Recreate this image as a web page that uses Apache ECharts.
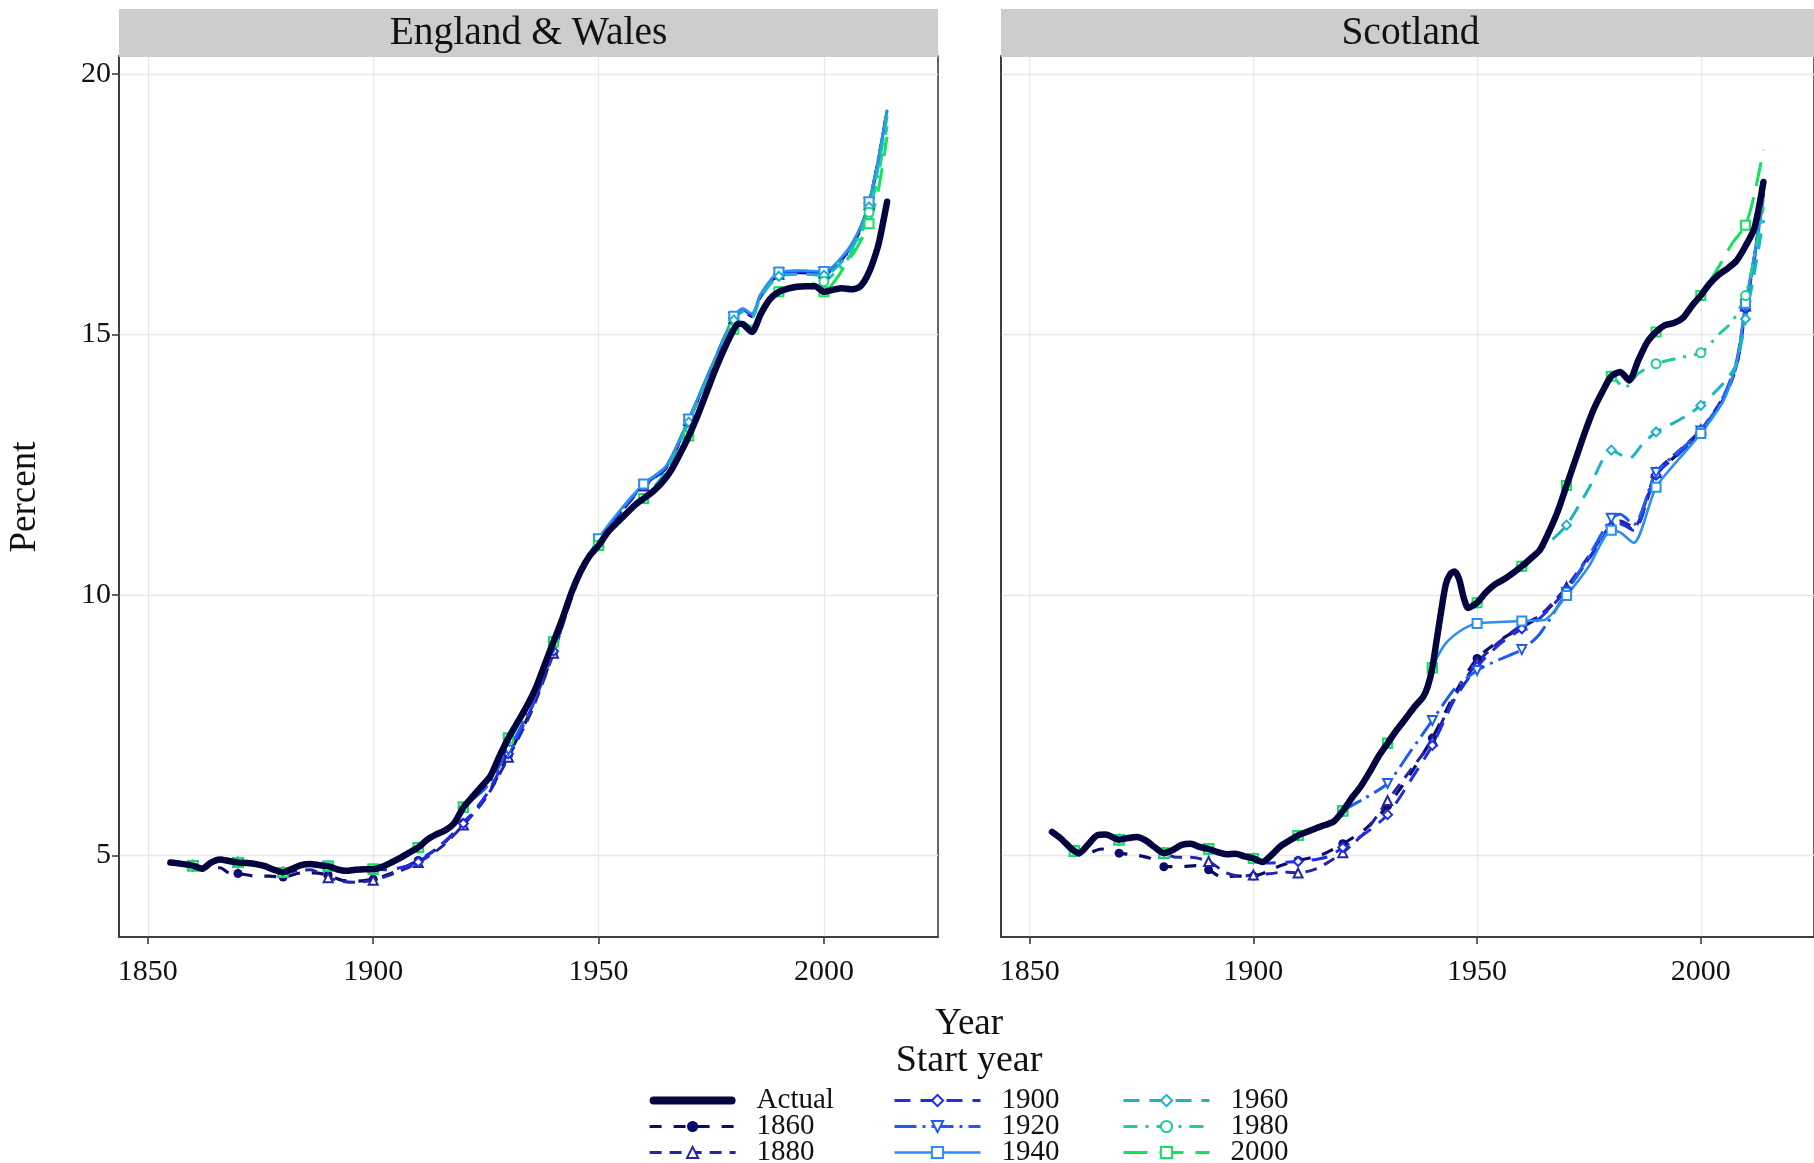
<!DOCTYPE html>
<html><head><meta charset="utf-8">
<script src="https://cdn.jsdelivr.net/npm/echarts@6/dist/echarts.min.js"></script>
<style>html,body{margin:0;padding:0;background:#fff}#c{width:1814px;height:1163px}</style>
</head><body><div id="c"></div>
<script>
const xTicks = [1850, 1900, 1950, 2000];
const yTicks = [5, 10, 15, 20];
const panelTitles = ['England & Wales', 'Scotland'];
const startYears = [1860, 1880, 1900, 1920, 1940, 1960, 1980, 2000];
const projNames = ['1860', '1880', '1900', '1920', '1940', '1960', '1980', '2000'];

// England & Wales
const ewActual = [[1855,4.86],[1857,4.84],[1860,4.80],[1862,4.74],[1864,4.86],[1866,4.92],[1868,4.89],[1870,4.86],[1872,4.85],[1874,4.83],[1876,4.79],[1878,4.72],[1880,4.67],[1882,4.74],[1884,4.81],[1886,4.83],[1888,4.81],[1890,4.79],[1892,4.73],[1894,4.70],[1896,4.72],[1898,4.73],[1900,4.73],[1902,4.78],[1904,4.86],[1906,4.95],[1908,5.05],[1910,5.15],[1912,5.30],[1914,5.40],[1916,5.48],[1918,5.62],[1920,5.92],[1922,6.12],[1924,6.32],[1926,6.52],[1928,6.90],[1930,7.25],[1932,7.55],[1934,7.85],[1936,8.20],[1938,8.65],[1940,9.10],[1942,9.55],[1944,10.05],[1946,10.45],[1948,10.75],[1950,10.95],[1952,11.20],[1954,11.38],[1956,11.55],[1958,11.72],[1960,11.85],[1962,11.98],[1964,12.15],[1966,12.38],[1968,12.70],[1970,13.05],[1972,13.45],[1974,13.90],[1976,14.35],[1978,14.75],[1980,15.10],[1981,15.21],[1982,15.20],[1984,15.05],[1986,15.40],[1988,15.68],[1990,15.82],[1992,15.88],[1994,15.92],[1996,15.93],[1998,15.93],[2000,15.82],[2002,15.86],[2004,15.89],[2006,15.87],[2008,15.92],[2010,16.20],[2012,16.70],[2013,17.10],[2014,17.55]];
const ew1860 = [[1860,4.80],[1863,4.76],[1866,4.76],[1868,4.66],[1870,4.65],[1874,4.60],[1877,4.60],[1880,4.58],[1884,4.66],[1887,4.66],[1890,4.62],[1893,4.52],[1896,4.50],[1900,4.54],[1903,4.62],[1906,4.73],[1910,4.90],[1915,5.18],[1920,5.62],[1925,6.12],[1930,6.92],[1935,7.78],[1940,8.90],[1945,10.20],[1950,11.02],[1955,11.60],[1960,12.08],[1965,12.44],[1970,13.34],[1975,14.34],[1980,15.30],[1982,15.46],[1984,15.35],[1986,15.74],[1990,16.15],[1995,16.19],[2000,16.17],[2005,16.55],[2008,17.00],[2010,17.50],[2012,18.30],[2014,19.28]];
const ew1880 = [[1880,4.67],[1883,4.70],[1886,4.72],[1890,4.57],[1893,4.50],[1896,4.48],[1900,4.52],[1903,4.60],[1906,4.70],[1910,4.86],[1915,5.15],[1920,5.58],[1925,6.10],[1930,6.88],[1935,7.74],[1940,8.88],[1945,10.18],[1950,11.02],[1955,11.60],[1960,12.09],[1965,12.45],[1970,13.35],[1975,14.35],[1980,15.31],[1982,15.47],[1984,15.36],[1986,15.75],[1990,16.16],[1995,16.20],[2000,16.18],[2005,16.56],[2008,17.00],[2010,17.50],[2012,18.30],[2014,19.28]];
const ew1900 = [[1900,4.73],[1903,4.72],[1906,4.76],[1910,4.87],[1915,5.20],[1920,5.61],[1925,6.15],[1930,6.95],[1935,7.80],[1940,8.92],[1945,10.22],[1950,11.04],[1955,11.62],[1960,12.10],[1965,12.46],[1970,13.36],[1975,14.36],[1980,15.32],[1982,15.48],[1984,15.37],[1986,15.76],[1990,16.17],[1995,16.21],[2000,16.19],[2005,16.57],[2008,17.02],[2010,17.52],[2012,18.32],[2014,19.30]];
const ew1920 = [[1920,5.92],[1925,6.30],[1930,7.02],[1935,7.86],[1940,9.00],[1945,10.25],[1950,11.06],[1955,11.63],[1960,12.12],[1965,12.47],[1970,13.37],[1975,14.37],[1980,15.33],[1982,15.49],[1984,15.38],[1986,15.77],[1990,16.18],[1995,16.22],[2000,16.20],[2005,16.58],[2008,17.03],[2010,17.53],[2012,18.33],[2014,19.30]];
const ew1940 = [[1940,9.10],[1945,10.28],[1950,11.08],[1955,11.65],[1960,12.13],[1965,12.48],[1970,13.38],[1975,14.38],[1980,15.35],[1982,15.50],[1984,15.40],[1986,15.78],[1990,16.20],[1995,16.23],[2000,16.21],[2005,16.60],[2008,17.05],[2010,17.55],[2012,18.35],[2014,19.32]];
const ew1960 = [[1960,11.85],[1965,12.38],[1970,13.32],[1975,14.33],[1980,15.28],[1982,15.44],[1984,15.33],[1986,15.72],[1990,16.12],[1995,16.16],[2000,16.14],[2005,16.50],[2008,16.95],[2010,17.45],[2012,18.20],[2014,19.20]];
const ew1980 = [[1980,15.10],[1982,15.22],[1984,15.15],[1986,15.45],[1990,15.82],[1995,15.95],[2000,16.02],[2005,16.42],[2008,16.90],[2010,17.35],[2012,18.05],[2014,19.00]];
const ew2000 = [[2000,15.82],[2003,16.10],[2005,16.38],[2007,16.62],[2010,17.13],[2012,17.75],[2014,18.80]];

// Scotland
const scActual = [[1855,5.45],[1857,5.32],[1859,5.15],[1860,5.08],[1861,5.04],[1863,5.20],[1865,5.38],[1867,5.40],[1870,5.30],[1872,5.33],[1874,5.35],[1876,5.28],[1878,5.15],[1880,5.04],[1882,5.10],[1884,5.20],[1886,5.22],[1888,5.16],[1890,5.12],[1892,5.06],[1894,5.02],[1896,5.03],[1898,4.98],[1900,4.94],[1902,4.87],[1904,5.00],[1906,5.17],[1908,5.28],[1910,5.38],[1912,5.45],[1914,5.52],[1916,5.58],[1918,5.65],[1920,5.85],[1922,6.10],[1924,6.32],[1926,6.60],[1928,6.90],[1930,7.15],[1932,7.40],[1934,7.62],[1936,7.85],[1938,8.05],[1939,8.25],[1940,8.60],[1941,9.15],[1942,9.70],[1943,10.20],[1944,10.40],[1945,10.45],[1946,10.30],[1947,9.95],[1948,9.75],[1950,9.85],[1952,10.05],[1954,10.20],[1956,10.30],[1958,10.42],[1960,10.55],[1962,10.70],[1964,10.86],[1966,11.20],[1968,11.60],[1970,12.10],[1972,12.60],[1974,13.10],[1976,13.55],[1978,13.90],[1980,14.20],[1982,14.28],[1984,14.12],[1986,14.50],[1988,14.85],[1990,15.05],[1992,15.18],[1994,15.22],[1996,15.32],[1998,15.55],[2000,15.75],[2002,15.98],[2004,16.15],[2006,16.27],[2008,16.42],[2010,16.70],[2012,17.05],[2014,17.93]];
const sc1860 = [[1860,5.08],[1863,5.04],[1866,5.12],[1870,5.04],[1874,5.00],[1877,4.94],[1880,4.78],[1884,4.78],[1887,4.80],[1890,4.72],[1893,4.58],[1896,4.60],[1900,4.60],[1903,4.68],[1906,4.80],[1910,4.90],[1915,5.00],[1920,5.22],[1925,5.50],[1930,5.95],[1935,6.55],[1940,7.25],[1945,8.10],[1950,8.78],[1955,9.12],[1960,9.38],[1964,9.58],[1970,10.10],[1975,10.70],[1980,11.30],[1982,11.38],[1985,11.25],[1990,12.30],[1995,12.72],[2000,13.15],[2005,13.75],[2008,14.40],[2010,15.50],[2012,16.50],[2014,17.70]];
const sc1880 = [[1880,5.04],[1883,4.96],[1886,4.96],[1890,4.88],[1894,4.66],[1897,4.60],[1900,4.62],[1904,4.65],[1907,4.68],[1910,4.66],[1914,4.74],[1917,4.88],[1920,5.05],[1925,5.45],[1930,6.05],[1935,6.62],[1940,7.20],[1945,8.05],[1950,8.70],[1955,9.10],[1960,9.42],[1964,9.60],[1970,10.15],[1975,10.75],[1980,11.35],[1982,11.42],[1985,11.30],[1990,12.35],[1995,12.76],[2000,13.17],[2005,13.80],[2008,14.45],[2010,15.55],[2012,16.50],[2014,17.75]];
const sc1900 = [[1900,4.94],[1903,4.85],[1906,4.86],[1910,4.88],[1914,4.92],[1917,4.98],[1920,5.15],[1925,5.42],[1930,5.78],[1935,6.42],[1940,7.11],[1945,8.00],[1950,8.62],[1955,9.05],[1960,9.35],[1964,9.55],[1970,10.10],[1975,10.70],[1980,11.30],[1982,11.36],[1985,11.24],[1990,12.30],[1995,12.70],[2000,13.12],[2005,13.76],[2008,14.42],[2010,15.50],[2012,16.45],[2014,17.70]];
const sc1920 = [[1920,5.85],[1925,6.10],[1930,6.38],[1935,6.98],[1940,7.59],[1945,8.20],[1950,8.55],[1955,8.76],[1960,8.95],[1964,9.25],[1970,10.05],[1975,10.75],[1980,11.47],[1982,11.55],[1985,11.35],[1990,12.35],[1995,12.75],[2000,13.15],[2005,13.80],[2008,14.50],[2010,15.55],[2012,16.50],[2014,17.70]];
const sc1940 = [[1940,8.60],[1943,9.07],[1947,9.35],[1950,9.45],[1955,9.48],[1960,9.50],[1965,9.52],[1970,9.99],[1975,10.55],[1980,11.24],[1982,11.20],[1985,11.00],[1990,12.07],[1995,12.60],[2000,13.10],[2005,13.72],[2008,14.45],[2010,15.60],[2012,16.55],[2014,17.60]];
const sc1960 = [[1960,10.55],[1965,10.92],[1970,11.34],[1975,12.05],[1980,12.78],[1984,12.62],[1987,12.90],[1990,13.13],[1993,13.26],[1997,13.45],[2000,13.64],[2005,14.06],[2008,14.44],[2010,15.30],[2012,16.20],[2014,17.20]];
const sc1980 = [[1980,14.20],[1983,13.98],[1986,14.25],[1990,14.44],[1995,14.55],[2000,14.65],[2004,15.00],[2007,15.25],[2010,15.75],[2012,16.50],[2014,17.45]];
const sc2000 = [[2000,15.75],[2004,16.30],[2007,16.75],[2010,17.10],[2012,17.70],[2014,18.55]];

const ewProj = [ew1860, ew1880, ew1900, ew1920, ew1940, ew1960, ew1980, ew2000];
const scProj = [sc1860, sc1880, sc1900, sc1920, sc1940, sc1960, sc1980, sc2000];

// styles
const FONT = 'Liberation Serif';
const actualColor = '#04043f';
const projColors = ['#0b0b6b', '#2424a8', '#1f2ee6', '#1e5cf0', '#2b8ef2', '#1cb3c9', '#1ecf94', '#12e35a'];
const projSymbols = ['circle', 'emptyTriangle', 'emptyDiamond', 'emptyTriangle', 'emptyRect', 'emptyDiamond', 'emptyCircle', 'emptyRect'];
const projRotate = [0, 0, 0, 180, 0, 0, 0, 0];
const projDash = [[12, 12], [12, 8], [16, 10], [22, 6, 3, 6], 'solid', [16, 10], [14, 8, 3, 8], [24, 12]];
const projWidth = [3.2, 3, 3, 3, 2.6, 3, 3, 3];

const gridBox = [{left: 119, top: 56, width: 819, height: 881}, {left: 1001, top: 56, width: 819, height: 881}];

function markerSize(v) { return (Math.round(v[0]) % 10 === 0) ? 9 : 0; }

function buildPanel(idx, actual, proj) {
  const out = [];
  for (let i = 0; i < startYears.length; i++) {
    const hist = actual.filter(p => p[0] < startYears[i]);
    out.push({
      name: projNames[i], type: 'line', xAxisIndex: idx, yAxisIndex: idx,
      data: hist.concat(proj[i]), smooth: 0.25,
      symbol: projSymbols[i], symbolRotate: projRotate[i], symbolSize: markerSize, showSymbol: true,
      lineStyle: {color: projColors[i], width: projWidth[i], type: projDash[i]},
      itemStyle: {color: projColors[i], borderWidth: 1.6},
      emphasis: {disabled: true}, z: 3
    });
  }
  out.push({
    name: 'Actual', type: 'line', xAxisIndex: idx, yAxisIndex: idx,
    data: actual, smooth: 0.25, symbol: 'none',
    lineStyle: {color: actualColor, width: 6.5, cap: 'round', join: 'round'},
    itemStyle: {color: actualColor},
    emphasis: {disabled: true}, z: 5
  });
  return out;
}

const series = buildPanel(0, ewActual, ewProj).concat(buildPanel(1, scActual, scProj));

function xAxis(i) {
  return {
    type: 'value', gridIndex: i, min: 1843.6, max: 2025.3,
    axisLine: {show: true, onZero: false, lineStyle: {color: '#333', width: 1.5}},
    axisTick: {show: true, length: 7, customValues: xTicks, lineStyle: {color: '#333', width: 1.5}},
    axisLabel: {customValues: xTicks, formatter: v => String(v), fontFamily: FONT, fontSize: 30, color: '#111', margin: 20},
    splitLine: {show: true, lineStyle: {color: '#e8e8e8', width: 1.3}}
  };
}
function yAxis(i) {
  return {
    type: 'value', gridIndex: i, min: 3.43, max: 20.35,
    axisLine: {show: true, onZero: false, lineStyle: {color: '#333', width: 1.5}},
    axisTick: {show: i === 0, length: 7, customValues: yTicks, lineStyle: {color: '#333', width: 1.5}},
    axisLabel: {show: i === 0, customValues: yTicks, formatter: v => String(v), fontFamily: FONT, fontSize: 30, color: '#111', margin: 8},
    splitLine: {show: true, lineStyle: {color: '#e8e8e8', width: 1.3}}
  };
}

const legendText = {fontFamily: FONT, fontSize: 29, color: '#111', lineHeight: 25.5, padding: [0, 0, 0, 16]};
function legendCol(names, left) {
  return {data: names, orient: 'vertical', left: left, top: 1086, height: 120, width: 220,
          itemWidth: 86, itemHeight: 14, itemGap: -3, padding: 0, textStyle: legendText,
          lineStyle: {width: 'inherit'}, selectedMode: false};
}
const actualLegendItem = {name: 'Actual', icon: 'path://M4,0L82,0A4,4,0,0,1,82,8L4,8A4,4,0,0,1,4,0Z'};

const graphics = [];
for (let i = 0; i < 2; i++) {
  graphics.push({type: 'rect', z: 100, shape: {x: gridBox[i].left, y: 9, width: gridBox[i].width, height: 48}, style: {fill: '#cdcdcd'}});
  graphics.push({type: 'text', z: 101, x: gridBox[i].left + gridBox[i].width / 2, y: 34,
    style: {text: panelTitles[i], font: '39.5px "' + FONT + '"', fill: '#111', textAlign: 'center', textVerticalAlign: 'middle'}});
}
graphics.push({type: 'text', x: 969, y: 1024, style: {text: 'Year', font: '37px "' + FONT + '"', fill: '#111', textAlign: 'center', textVerticalAlign: 'middle'}});
graphics.push({type: 'text', x: 969, y: 1061, style: {text: 'Start year', font: '38px "' + FONT + '"', fill: '#111', textAlign: 'center', textVerticalAlign: 'middle'}});
graphics.push({type: 'text', x: 25, y: 497, rotation: Math.PI / 2, style: {text: 'Percent', font: '37px "' + FONT + '"', fill: '#111', textAlign: 'center', textVerticalAlign: 'middle'}});

const chart = echarts.init(document.getElementById('c'), null, {renderer: 'canvas'});
chart.setOption({
  animation: false,
  backgroundColor: '#fff',
  grid: gridBox.map(g => Object.assign({show: true, borderColor: '#333', borderWidth: 1.5, backgroundColor: '#fff'}, g)),
  xAxis: [xAxis(0), xAxis(1)],
  yAxis: [yAxis(0), yAxis(1)],
  legend: [
    legendCol([actualLegendItem, '1860', '1880'], 648),
    legendCol(['1900', '1920', '1940'], 893),
    legendCol(['1960', '1980', '2000'], 1122)
  ],
  graphic: graphics,
  series: series
});
</script></body></html>
